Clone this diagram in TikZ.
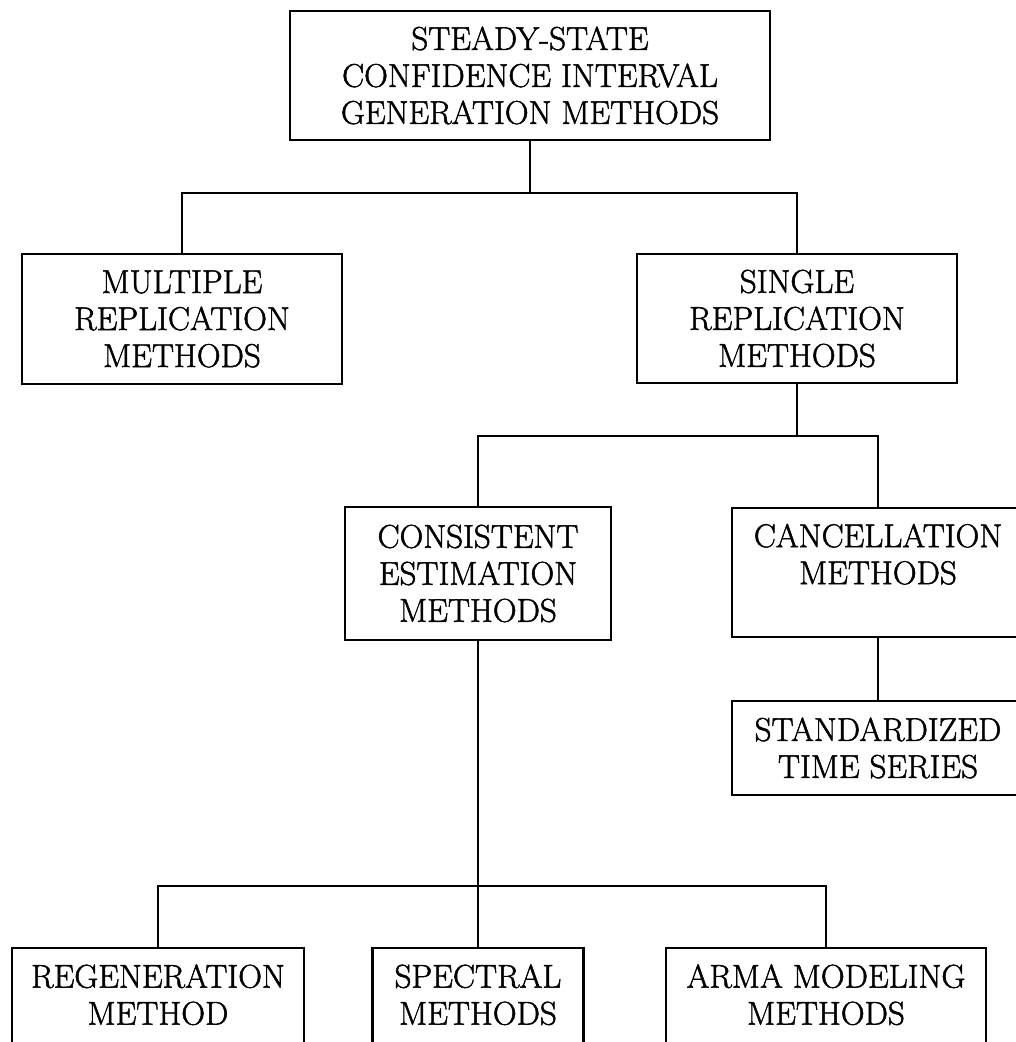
\documentclass[tikz,border=0pt]{standalone}
\usepackage{fontspec}
\newfontfamily\boxfont{Latin Modern Roman}[FakeBold=1.5]
\tikzset{
  box/.style={draw, line width=2.6pt, rectangle, inner sep=0pt, align=center,
    font=\boxfont\fontsize{33}{37}\selectfont},
  conn/.style={line width=1.8pt}
}
\begin{document}
\begin{tikzpicture}[x=1pt,y=-1pt]
\clip (0,0) rectangle (1016,1042);
\node[box, minimum width=480pt, minimum height=129pt] (top) at (530,75.5)
  {STEADY-STATE\\CONFIDENCE INTERVAL\\GENERATION METHODS};
\node[box, minimum width=320pt, minimum height=130pt] (mult) at (182,319)
  {MULTIPLE\\REPLICATION\\METHODS};
\node[box, minimum width=320pt, minimum height=129pt] (single) at (797,318.5)
  {SINGLE\\REPLICATION\\METHODS};
\node[box, minimum width=266pt, minimum height=133pt] (cons) at (478,573.5)
  {CONSISTENT\\ESTIMATION\\METHODS};
\node[box, minimum width=292pt, minimum height=129pt] (canc) at (878,572.5)
  {CANCELLATION\\METHODS\\\mbox{}};
\node[box, minimum width=292pt, minimum height=94pt] (sts) at (878,748)
  {STANDARDIZED\\TIME SERIES};
\node[box, minimum width=292pt, minimum height=130pt] (regen) at (158,1013)
  {REGENERATION\\METHOD\\\mbox{}};
\node[box, minimum width=211pt, minimum height=130pt] (spec) at (478,1013)
  {SPECTRAL\\METHODS\\\mbox{}};
\node[box, minimum width=320pt, minimum height=130pt] (arma) at (826,1013)
  {ARMA MODELING\\METHODS\\\mbox{}};

\coordinate (j1) at (530,193);
\coordinate (j2) at (797,436);
\coordinate (j3) at (478,886);

\draw[conn] (top.south) -- (j1);
\draw[conn] (mult.north) |- (j1) -| (single.north);
\draw[conn] (single.south) -- (j2);
\draw[conn] (cons.north) |- (j2) -| (canc.north);
\draw[conn] (canc.south) -- (sts.north);
\draw[conn] (cons.south) -- (j3);
\draw[conn] (regen.north) |- (j3) -| (arma.north);
\draw[conn] (j3) -- (spec.north);
\end{tikzpicture}
\end{document}
